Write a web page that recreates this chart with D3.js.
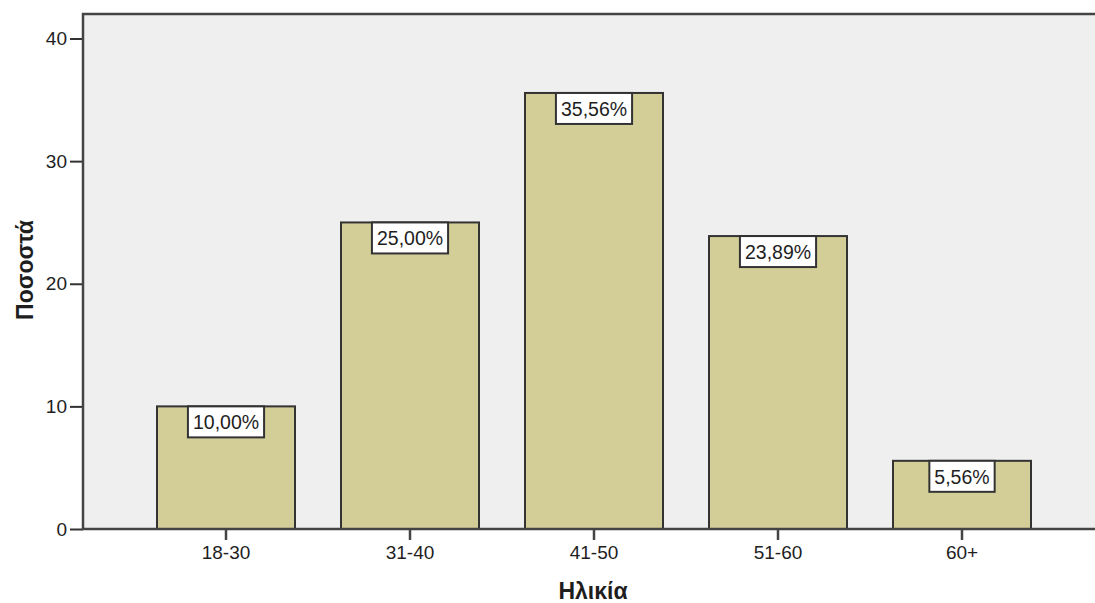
<!DOCTYPE html>
<html>
<head>
<meta charset="utf-8">
<script src="https://cdn.jsdelivr.net/npm/d3@7"></script>
<style>
  html, body { margin: 0; padding: 0; background: #ffffff; }
  svg { display: block; }
  text { font-family: "Liberation Sans", Arial, sans-serif; fill: #1e1e1e; }
</style>
</head>
<body>
<svg id="chart" width="1095" height="603"></svg>
<script>
// Age groups and their share of respondents (%)
const categories = ["18-30", "31-40", "41-50", "51-60", "60+"];
const percentages = [10.00, 25.00, 35.56, 23.89, 5.56];
const yTicks = [0, 10, 20, 30, 40];
const xTitle = "Ηλικία";
const yTitle = "Ποσοστά";

const W = 1095, H = 603;
const plot = { left: 83, top: 14, right: 1095, bottom: 529 };

const svg = d3.select("#chart");

const x = d3.scaleBand()
  .domain(categories)
  .range([134, 1054])
  .paddingInner(0.25)
  .paddingOuter(0.125);

const y = d3.scaleLinear()
  .domain([0, 42])
  .range([plot.bottom, plot.top]);

// plot background
svg.append("rect")
  .attr("x", plot.left).attr("y", plot.top)
  .attr("width", plot.right - plot.left)
  .attr("height", plot.bottom - plot.top)
  .attr("fill", "#efefef");

// bars
svg.append("g").selectAll("rect")
  .data(categories)
  .join("rect")
  .attr("x", d => x(d))
  .attr("y", (d, i) => y(percentages[i]))
  .attr("width", x.bandwidth())
  .attr("height", (d, i) => y(0) - y(percentages[i]))
  .attr("fill", "#d3cd98")
  .attr("stroke", "#333333")
  .attr("stroke-width", 2);

// value labels in boxes at the top of each bar
const fmt = v => v.toFixed(2).replace(".", ",") + "%";
const labels = svg.append("g").selectAll("g")
  .data(categories)
  .join("g")
  .attr("transform", (d, i) => `translate(${x(d) + x.bandwidth() / 2},${y(percentages[i])})`);

labels.append("text")
  .attr("text-anchor", "middle")
  .attr("y", 23)
  .style("font-size", "19.5px")
  .text((d, i) => fmt(percentages[i]));

labels.each(function () {
  const g = d3.select(this);
  const bb = g.select("text").node().getBBox();
  const bw = bb.width + 10;
  g.insert("rect", "text")
    .attr("x", -bw / 2)
    .attr("y", 0)
    .attr("width", bw)
    .attr("height", 31)
    .attr("fill", "#ffffff")
    .attr("stroke", "#333333")
    .attr("stroke-width", 2);
});

// y axis
const yAxis = svg.append("g")
  .attr("transform", `translate(${plot.left},0)`)
  .call(d3.axisLeft(y).tickValues(yTicks).tickSize(13).tickPadding(3).tickFormat(d3.format("d")));
yAxis.select(".domain").remove();
yAxis.selectAll(".tick line").attr("stroke", "#333").attr("stroke-width", 2);
yAxis.selectAll(".tick text").style("font-size", "19px").attr("fill", "#1e1e1e")
  .style("font-family", "'Liberation Sans', Arial, sans-serif");

// x axis
const xAxis = svg.append("g")
  .attr("transform", `translate(0,${plot.bottom})`)
  .call(d3.axisBottom(x).tickSize(11).tickPadding(6).tickSizeOuter(0));
xAxis.select(".domain").remove();
xAxis.selectAll(".tick line").attr("stroke", "#444").attr("stroke-width", 2.5);
xAxis.selectAll(".tick text").style("font-size", "19px").attr("fill", "#1e1e1e")
  .style("font-family", "'Liberation Sans', Arial, sans-serif");

// plot frame: left, top and bottom lines
svg.append("path")
  .attr("d", `M${W},${plot.top}H${plot.left}V${plot.bottom}H${W}`)
  .attr("fill", "none")
  .attr("stroke", "#444444")
  .attr("stroke-width", 2.5);

// axis titles
svg.append("text")
  .attr("x", 593).attr("y", 599)
  .attr("text-anchor", "middle")
  .style("font-size", "23px").style("font-weight", "bold")
  .text(xTitle);

svg.append("text")
  .attr("transform", "translate(33,270) rotate(-90)")
  .attr("text-anchor", "middle")
  .style("font-size", "23px").style("font-weight", "bold")
  .text(yTitle);
</script>
</body>
</html>
